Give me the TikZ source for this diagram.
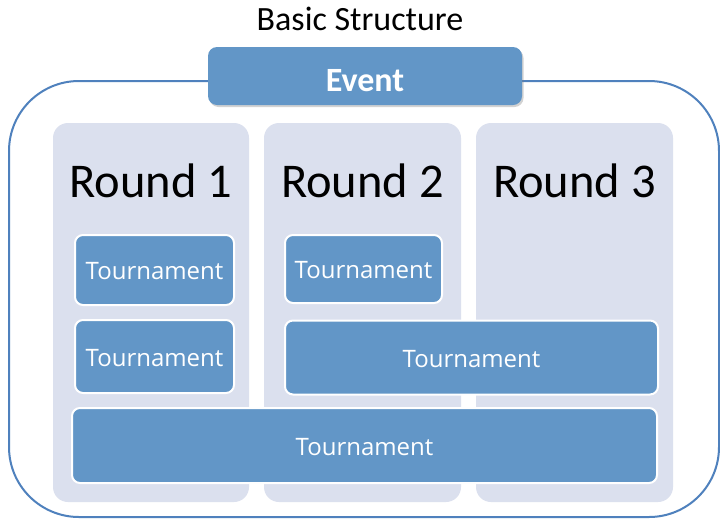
\documentclass[tikz,border=0pt]{standalone}
\usepackage{fontspec}
\setmainfont{Carlito}
\newfontfamily\tfont{Open Sans}
\usetikzlibrary{shadows}
\definecolor{accent}{RGB}{79,129,189}
\definecolor{boxblue}{RGB}{98,150,199}
\definecolor{colfill}{RGB}{219,224,238}
\tikzset{
  outerbox/.style={draw=accent, line width=2pt, rounded corners=70pt, fill=white, inner sep=0pt},
  eventbox/.style={fill=boxblue, rounded corners=9pt, inner sep=0pt, text=white,
    text height=30pt, text depth=0pt,
    font=\fontsize{34}{36}\selectfont\bfseries,
    drop shadow={opacity=0.35, shadow xshift=1.5pt, shadow yshift=-2pt}},
  roundcol/.style={fill=colfill, rounded corners=15pt, inner sep=0pt},
  roundlabel/.style={font=\fontsize{48.5}{50}\selectfont, anchor=base, inner sep=0pt},
  tourbox/.style={fill=boxblue, draw=white, line width=2pt, rounded corners=8pt, inner sep=0pt,
    text height=19.5pt, text depth=0pt,
    text=white, font=\tfont\fontsize{24}{26}\selectfont},
  titletext/.style={font=\fontsize{34}{36}\selectfont, anchor=base, inner sep=0pt}
}
\begin{document}
\begin{tikzpicture}[x=1pt,y=-1pt]
\useasboundingbox (0,0) rectangle (720,520);
\fill[white] (0,0) rectangle (720,520);
\node[titletext] (title) at (360,30) {Basic Structure};
\node[outerbox, minimum width=710pt, minimum height=436pt] (outer) at (364,299) {};
\node[eventbox, minimum width=314pt, minimum height=58pt] (event) at (365,76) {Event};
\node[roundcol, minimum width=196pt, minimum height=379pt] (col1) at (151,312.5) {};
\node[roundcol, minimum width=197pt, minimum height=379pt] (col2) at (362.5,312.5) {};
\node[roundcol, minimum width=197pt, minimum height=379pt] (col3) at (574.5,312.5) {};
\node[roundlabel] (r1) at (151,197) {Round 1};
\node[roundlabel] (r2) at (362.5,197) {Round 2};
\node[roundlabel] (r3) at (574.5,197) {Round 3};
\node[tourbox, minimum width=159pt, minimum height=70pt] (t1) at (154.5,270) {Tournament};
\node[tourbox, minimum width=159pt, minimum height=73pt] (t2) at (154.5,356.5) {Tournament};
\node[tourbox, minimum width=157pt, minimum height=68pt] (t3) at (363.5,269) {Tournament};
\node[tourbox, minimum width=373pt, minimum height=74pt] (t4) at (471.5,357.5) {Tournament};
\node[tourbox, minimum width=585pt, minimum height=75pt] (t5) at (364.5,445.5) {Tournament};
\end{tikzpicture}
\end{document}
